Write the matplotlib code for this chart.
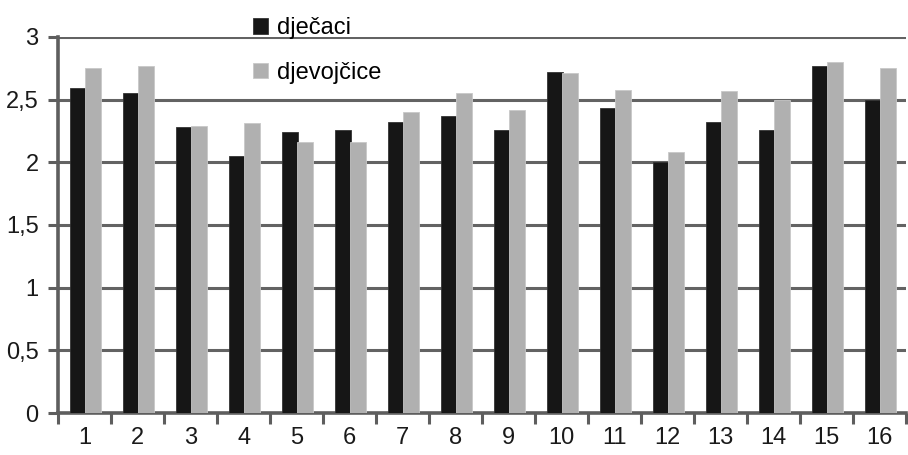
import numpy as np
import matplotlib.pyplot as plt

plt.rcParams['font.family'] = ['Liberation Sans', 'DejaVu Sans']

razredi = [str(i) for i in range(1, 17)]
djecaci = [2.59, 2.55, 2.28, 2.05, 2.245, 2.26, 2.325, 2.37,
           2.26, 2.72, 2.435, 2.005, 2.325, 2.26, 2.77, 2.50]
djevojcice = [2.75, 2.77, 2.29, 2.31, 2.165, 2.165, 2.40, 2.55,
              2.42, 2.71, 2.58, 2.085, 2.565, 2.50, 2.80, 2.75]
y_ticks = [0, 0.5, 1, 1.5, 2, 2.5, 3]
y_labels = ['0', '0,5', '1', '1,5', '2', '2,5', '3']

fig = plt.figure(figsize=(9.08, 4.55), dpi=100)
ax = fig.add_axes([0.064, 0.092, 0.934, 0.827])

x = np.arange(1, 17)
w = 0.29
ax.bar(x - 0.125, djecaci, w, color='#161616', edgecolor='#333333', linewidth=0.6,
       label='dječaci', zorder=3)
ax.bar(x + 0.16, djevojcice, w, color='#b0b0b0', edgecolor='#c8c8c8', linewidth=0.6,
       label='djevojčice', zorder=3)

ax.set_xlim(0.5, 16.5)
ax.set_ylim(0, 3)
ax.set_yticks(y_ticks)
ax.set_yticklabels(y_labels)
ax.set_xticks(x)
ax.set_xticklabels(razredi)
ax.set_xticks(np.arange(0.5, 16.6, 1), minor=True)
ax.tick_params(axis='x', which='major', length=0, labelsize=17, pad=10, colors='#1a1a1a')
ax.tick_params(axis='x', which='minor', length=8, width=2.2, color='#5e5e5e')
ax.tick_params(axis='y', length=7, width=2.2, color='#5e5e5e', labelsize=17,
               pad=7, labelcolor='#1a1a1a')

ax.yaxis.grid(True, color='#636363', linewidth=2.2, zorder=0)
ax.set_axisbelow(True)
for s in ['top', 'right']:
    ax.spines[s].set_visible(False)
for s in ['left', 'bottom']:
    ax.spines[s].set_color('#5e5e5e')
    ax.spines[s].set_linewidth(2.6)

ax.legend(loc='upper left', bbox_to_anchor=(0.2786, 0.962), bbox_transform=fig.transFigure,
          frameon=False, fontsize=17, handlelength=0.64, handleheight=0.64,
          handletextpad=0.38, labelspacing=0.95, borderaxespad=0, borderpad=0)

fig.savefig('out.png', dpi=100)
